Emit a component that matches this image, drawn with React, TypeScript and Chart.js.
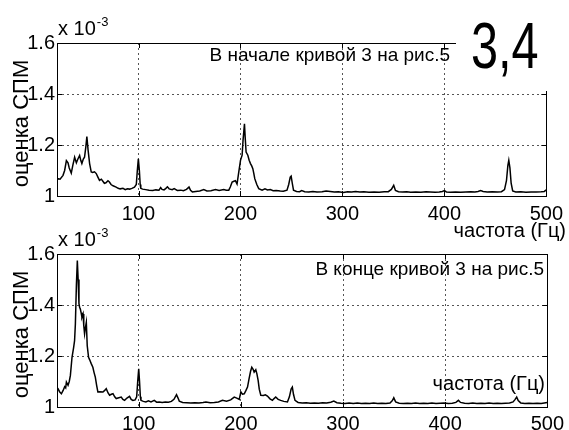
import React, { useEffect, useRef } from "react";
import { Chart, registerables } from "chart.js";

Chart.register(...registerables);

// ---------- data ----------
const xTicks = [100, 200, 300, 400, 500];
const yTicks = [1, 1.2, 1.4, 1.6];
const xRange = [20, 500];
const yRange = [1, 1.6];

const topTitle = "В начале кривой 3 на рис.5";
const bottomTitle = "В конце кривой 3 на рис.5";
const xLabel = "частота (Гц)";
const yLabel = "оценка СПМ";
const exponentBase = "x 10";
const exponentPower = "-3";
const figureLabel = "3,4";

// [frequency (Hz), PSD estimate (x 1e-3)]
const topSpectrum: [number, number][] = [
  [20, 1.06], [21, 1.068], [23, 1.066], [25.9, 1.081], [27.5, 1.1], [29.2, 1.139], [30.8, 1.13], [32, 1.11],
  [34, 1.09], [35.5, 1.12], [37.3, 1.152], [39, 1.13], [40.5, 1.145], [42.2, 1.159], [43.3, 1.14], [44.4, 1.127],
  [45.8, 1.145], [47, 1.152], [48.2, 1.19], [49.3, 1.233], [50.5, 1.18], [52, 1.127], [53.6, 1.094], [55, 1.092],
  [56.8, 1.095], [58.5, 1.088], [60, 1.075], [61.7, 1.061], [63.5, 1.066], [65, 1.058], [66.5, 1.05], [68, 1.052],
  [70, 1.06], [71.4, 1.055], [73, 1.045], [75, 1.04], [78, 1.035], [80, 1.03], [82, 1.028], [84.7, 1.03],
  [87, 1.025], [89, 1.028], [91.2, 1.027], [93.5, 1.03], [96, 1.035], [97.8, 1.045], [98.8, 1.1], [99.8, 1.146],
  [100.8, 1.1], [101.6, 1.045], [102.2, 1.03], [104, 1.027], [107, 1.025], [110.3, 1.023], [114, 1.022], [117, 1.024],
  [120, 1.023], [121.7, 1.033], [123, 1.026], [125, 1.024], [126.8, 1.03], [128.3, 1.036], [130, 1.028], [133, 1.025],
  [134.9, 1.029], [138, 1.022], [141.4, 1.023], [144, 1.021], [147, 1.026], [149.5, 1.035], [151, 1.022], [152.8, 1.016],
  [156, 1.018], [160, 1.02], [164, 1.025], [167, 1.02], [171, 1.021], [175.5, 1.025], [179, 1.022], [183.6, 1.025],
  [186, 1.023], [188.5, 1.023], [190, 1.035], [191.8, 1.055], [193.5, 1.058], [195, 1.06], [196.6, 1.047], [198.3, 1.094],
  [200, 1.14], [201.6, 1.16], [202.5, 1.218], [203.9, 1.283], [204.6, 1.23], [205.5, 1.172], [207.2, 1.16], [208.5, 1.14],
  [209.8, 1.127], [211, 1.118], [212.1, 1.107], [213, 1.09], [214, 1.068], [216, 1.045], [217.9, 1.029], [221.2, 1.023],
  [224, 1.028], [226.5, 1.024], [229.3, 1.025], [232, 1.021], [235, 1.022], [239, 1.02], [242, 1.019], [245.6, 1.023],
  [247.3, 1.045], [248.8, 1.074], [249.7, 1.078], [250.8, 1.05], [252, 1.023], [255, 1.018], [258, 1.017], [260, 1.021],
  [263, 1.017], [267, 1.016], [271, 1.018], [275, 1.016], [280, 1.017], [284, 1.02], [288, 1.018], [292, 1.016],
  [296, 1.017], [301, 1.014], [305, 1.017], [309, 1.016], [313, 1.018], [317, 1.016], [321, 1.017], [326, 1.015],
  [331, 1.016], [336, 1.015], [341, 1.017], [345, 1.017], [348, 1.026], [350.3, 1.042], [352, 1.022], [355, 1.017],
  [359, 1.016], [363, 1.017], [367, 1.015], [372, 1.016], [377, 1.015], [382, 1.017], [386, 1.016], [391, 1.015],
  [395, 1.016], [398, 1.018], [400, 1.021], [402, 1.016], [406, 1.015], [411, 1.016], [416, 1.015], [421, 1.016],
  [426, 1.017], [430, 1.016], [433, 1.018], [435.6, 1.021], [438, 1.018], [442, 1.016], [447, 1.017], [452, 1.016],
  [456, 1.017], [459, 1.025], [460.9, 1.06], [462.3, 1.12], [463.2, 1.14], [464.3, 1.11], [465.5, 1.05], [467, 1.02],
  [470, 1.016], [475, 1.017], [480, 1.015], [485, 1.016], [490, 1.016], [495, 1.017], [498, 1.018], [500, 1.024],
];

const bottomSpectrum: [number, number][] = [
  [20, 1.07], [21, 1.072], [22.5, 1.06], [24.3, 1.052], [26, 1.065], [27.5, 1.08], [28.5, 1.075], [29.2, 1.098],
  [30.8, 1.085], [32, 1.1], [33.1, 1.124], [34.7, 1.195], [36.3, 1.234], [37.2, 1.26], [38, 1.326], [39, 1.48],
  [39.9, 1.574], [40.7, 1.5], [41.5, 1.405], [42.2, 1.39], [42.8, 1.385], [43.6, 1.37], [44.4, 1.352], [45.5, 1.365],
  [46.2, 1.32], [47, 1.287], [47.8, 1.31], [48.7, 1.332], [49.6, 1.24], [50.9, 1.195], [52, 1.185], [53.5, 1.17],
  [55.1, 1.156], [56.3, 1.135], [57.5, 1.117], [58.8, 1.085], [60, 1.059], [62, 1.06], [65, 1.059], [66.7, 1.065],
  [68.2, 1.072], [70, 1.055], [71.5, 1.046], [73.2, 1.05], [74.8, 1.052], [76.5, 1.04], [78, 1.033], [80.5, 1.036],
  [82.9, 1.039], [84.5, 1.03], [86.2, 1.026], [88.5, 1.035], [91, 1.042], [92.6, 1.03], [94.3, 1.026], [96.5, 1.028],
  [98, 1.04], [99, 1.1], [100, 1.15], [100.8, 1.1], [101.6, 1.04], [102.2, 1.026], [104.5, 1.022], [107, 1.02],
  [109.5, 1.024], [112, 1.02], [115.2, 1.026], [117.5, 1.019], [120, 1.02], [123, 1.018], [126, 1.02], [129, 1.019],
  [132, 1.022], [134.5, 1.03], [137, 1.048], [138.5, 1.035], [139.7, 1.023], [143, 1.018], [147, 1.017], [151, 1.016],
  [155, 1.017], [159, 1.016], [163, 1.018], [165.8, 1.02], [170, 1.017], [174, 1.018], [178, 1.02], [182, 1.026],
  [186, 1.023], [190, 1.028], [193.5, 1.039], [196, 1.035], [198.4, 1.03], [200, 1.059], [201.5, 1.05], [203.3, 1.052],
  [205, 1.065], [206.5, 1.078], [208, 1.11], [209.5, 1.14], [210.7, 1.156], [212, 1.148], [213, 1.137], [214.6, 1.146],
  [215.7, 1.13], [216.9, 1.104], [218, 1.07], [219.5, 1.046], [222, 1.045], [224, 1.048], [226, 1.043], [228.5, 1.032],
  [230.9, 1.026], [232.5, 1.033], [234.1, 1.039], [236.5, 1.03], [239, 1.026], [242, 1.022], [245.6, 1.02], [247.5, 1.04],
  [249.2, 1.07], [250.4, 1.078], [251.5, 1.05], [253, 1.026], [256, 1.018], [260, 1.016], [264, 1.017], [268, 1.015],
  [272, 1.016], [276, 1.015], [280, 1.017], [284, 1.016], [288, 1.019], [291, 1.023], [294, 1.017], [298, 1.015],
  [302, 1.014], [306, 1.016], [310, 1.014], [314, 1.016], [318, 1.014], [322, 1.015], [326, 1.014], [330, 1.016],
  [334, 1.014], [338, 1.015], [342, 1.014], [346, 1.016], [348.3, 1.025], [349.7, 1.036], [351.5, 1.02], [355, 1.015],
  [359, 1.014], [363, 1.015], [367, 1.014], [371, 1.016], [375, 1.014], [379, 1.015], [383, 1.014], [387, 1.016],
  [391, 1.014], [395, 1.015], [399, 1.016], [403, 1.014], [407, 1.015], [410.5, 1.018], [413, 1.026], [415, 1.018],
  [419, 1.015], [423, 1.014], [427, 1.016], [431, 1.014], [435, 1.015], [439, 1.014], [443, 1.016], [447, 1.014],
  [451, 1.015], [455, 1.014], [459, 1.015], [463, 1.016], [466.5, 1.02], [468.5, 1.03], [470, 1.039], [471.5, 1.025],
  [474, 1.016], [478, 1.014], [482, 1.015], [486, 1.014], [490, 1.015], [494, 1.014], [497, 1.016], [500, 1.018],
];

// ---------- styling ----------
const FONT = "'Liberation Sans', Arial, Helvetica, sans-serif";
const W = 569;
const PLOT_LEFT = 57;
const PLOT_RIGHT = 549;
const PLOT_TOP = 43;
const PLOT_BOTTOM = 196;

type PanelCfg = {
  canvasTop: number;
  canvasHeight: number;
  data: [number, number][];
  title: string;
  titleRight: number;
  titleBaseline: number;
  xLabelRight: number;
  xLabelBaseline: number;
  tickPadding: number;
  showFigureLabel: boolean;
};

const panels: PanelCfg[] = [
  {
    canvasTop: 0,
    canvasHeight: 245,
    data: topSpectrum,
    title: topTitle,
    titleRight: 450,
    titleBaseline: 61,
    xLabelRight: 566,
    xLabelBaseline: 237,
    tickPadding: 6,
    showFigureLabel: true,
  },
  {
    canvasTop: 211,
    canvasHeight: 219,
    data: bottomSpectrum,
    title: bottomTitle,
    titleRight: 544,
    titleBaseline: 64,
    xLabelRight: 545,
    xLabelBaseline: 179,
    tickPadding: 5,
    showFigureLabel: false,
  },
];

function makeDecor(cfg: PanelCfg) {
  return {
    id: "decor",
    afterDraw(chart: any) {
      const { ctx, chartArea: a, scales } = chart;
      const xs = scales.x;
      const ys = scales.y;
      ctx.save();
      ctx.strokeStyle = "#000";
      ctx.lineWidth = 1;
      // inward tick marks
      ctx.beginPath();
      for (const t of xTicks) {
        const px = Math.round(xs.getPixelForValue(t)) + 0.5;
        ctx.moveTo(px, a.bottom);
        ctx.lineTo(px, a.bottom - 5);
        ctx.moveTo(px, a.top);
        ctx.lineTo(px, a.top + 5);
      }
      for (const t of yTicks) {
        const py = Math.round(ys.getPixelForValue(t)) + 0.5;
        ctx.moveTo(a.left, py);
        ctx.lineTo(a.left + 5, py);
        ctx.moveTo(a.right, py);
        ctx.lineTo(a.right - 5, py);
      }
      ctx.stroke();
      // axes box
      ctx.strokeRect(
        Math.round(a.left) + 0.5,
        Math.round(a.top) + 0.5,
        Math.round(a.right - a.left),
        Math.round(a.bottom - a.top)
      );

      ctx.fillStyle = "#000";
      ctx.textBaseline = "alphabetic";
      // exponent
      ctx.textAlign = "left";
      ctx.font = `20px ${FONT}`;
      ctx.fillText(exponentBase, a.left + 1, 35);
      const w = ctx.measureText(exponentBase).width;
      ctx.font = `13px ${FONT}`;
      ctx.fillText(exponentPower, a.left + 2 + w, 26);

      // y label
      ctx.save();
      ctx.translate(22, (a.top + a.bottom) / 2 + 4);
      ctx.rotate(-Math.PI / 2);
      ctx.font = `22px ${FONT}`;
      ctx.textAlign = "center";
      ctx.textBaseline = "middle";
      ctx.fillText(yLabel, 0, 0);
      ctx.restore();

      // title
      ctx.textAlign = "right";
      ctx.font = `19px ${FONT}`;
      ctx.fillText(cfg.title, cfg.titleRight, cfg.titleBaseline);

      // x label
      ctx.font = `20px ${FONT}`;
      ctx.fillText(xLabel, cfg.xLabelRight, cfg.xLabelBaseline);

      if (cfg.showFigureLabel) {
        ctx.fillStyle = "#fff";
        ctx.fillRect(456, 0, W - 456, 91);
        ctx.fillStyle = "#000";
        ctx.save();
        ctx.translate(471, 68);
        ctx.scale(0.76, 1);
        ctx.textAlign = "left";
        ctx.font = `64px ${FONT}`;
        ctx.fillText(figureLabel, 0, 0);
        ctx.restore();
      }
      ctx.restore();
    },
  };
}

function Panel({ cfg }: { cfg: PanelCfg }) {
  const ref = useRef<HTMLCanvasElement | null>(null);
  useEffect(() => {
    if (!ref.current) return;
    const chart = new Chart(ref.current, {
      type: "line",
      data: {
        datasets: [
          {
            data: cfg.data.map(([x, y]) => ({ x, y })),
            borderColor: "#000",
            borderWidth: 1.5,
            pointRadius: 0,
            fill: false,
            tension: 0,
          },
        ],
      },
      options: {
        animation: false,
        responsive: false,
        maintainAspectRatio: false,
        events: [],
        layout: { padding: { left: 0, top: PLOT_TOP, right: W - PLOT_RIGHT, bottom: 0 } },
        plugins: { legend: { display: false }, tooltip: { enabled: false } },
        scales: {
          x: {
            type: "linear",
            min: xRange[0],
            max: xRange[1],
            afterBuildTicks: (s: any) => {
              s.ticks = xTicks.map((v) => ({ value: v }));
            },
            afterFit: (s: any) => {
              s.height = cfg.canvasHeight - PLOT_BOTTOM;
            },
            ticks: {
              color: "#000",
              font: { family: FONT, size: 20 },
              padding: cfg.tickPadding,
              maxRotation: 0,
              autoSkip: false,
              callback: (v: any) => String(v),
            },
            grid: {
              color: "#555",
              lineWidth: 1,
              drawTicks: false,
            },
            border: { display: false, dash: [2, 3] },
          },
          y: {
            type: "linear",
            min: yRange[0],
            max: yRange[1],
            afterBuildTicks: (s: any) => {
              s.ticks = yTicks.map((v) => ({ value: v }));
            },
            afterFit: (s: any) => {
              s.width = PLOT_LEFT;
            },
            ticks: {
              color: "#000",
              font: { family: FONT, size: 20 },
              padding: 2,
              autoSkip: false,
              callback: (v: any) => String(Number(Number(v).toFixed(1))),
            },
            grid: {
              color: "#555",
              lineWidth: 1,
              drawTicks: false,
            },
            border: { display: false, dash: [2, 3] },
          },
        },
      } as any,
      plugins: [makeDecor(cfg)],
    });
    return () => chart.destroy();
  }, [cfg]);
  return (
    <canvas
      ref={ref}
      width={W}
      height={cfg.canvasHeight}
      style={{ position: "absolute", left: 0, top: cfg.canvasTop, width: W, height: cfg.canvasHeight }}
    />
  );
}

export default function App() {
  return (
    <div style={{ position: "fixed", left: 0, top: 0, width: W, height: 430, background: "#fff", overflow: "hidden" }}>
      {panels.map((p, i) => (
        <Panel key={i} cfg={p} />
      ))}
    </div>
  );
}
